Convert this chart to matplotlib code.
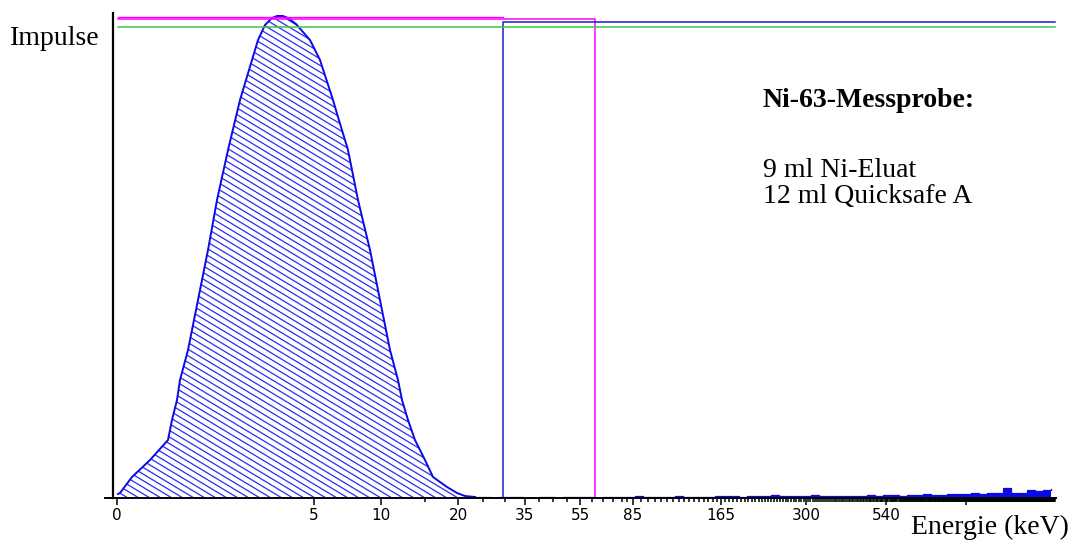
import numpy as np
import matplotlib.pyplot as plt
from matplotlib.patches import Polygon
from matplotlib.collections import LineCollection

# Ni-63 Spektrum (Kanal, Impulse) - Peak
peak_ch = [1, 3, 15, 33, 51, 55, 60, 63, 71, 81, 91, 100, 111, 123, 135, 141, 148, 155, 160,
           166, 171, 179, 193, 203, 216, 221, 231, 241, 253, 263, 273, 281, 285, 291, 298,
           308, 316, 330, 340, 348, 358]
peak_cnt = [4, 5, 21, 38, 58, 78, 98, 118, 148, 198, 248, 298, 348, 398, 438, 458, 473, 480, 482,
            482, 480, 474, 458, 438, 398, 381, 348, 298, 248, 198, 148, 118, 98, 78, 58,
            38, 21, 11, 5, 2, 1]

# Untergrund oberhalb des Peaks (Kanal 358 .. 934, Schritt 8)
tail_ch = np.arange(358, 938, 8)
tail_cnt = [1, 1, 0, 1, 1, 1, 0, 0, 1, 1, 0, 1, 1, 1, 1, 0,
            1, 1, 1, 1, 2, 1, 1, 1, 1, 2, 1, 1, 1, 1, 2,
            2, 2, 1, 2, 2, 2, 3, 2, 2, 2, 2, 3, 2, 2, 2, 2,
            2, 2, 3, 2, 3, 3, 2, 3, 3, 4, 3, 3, 4,
            4, 4, 5, 4, 5, 5, 10, 5, 5, 8, 7, 8, 9]

# Energieachse: Beschriftung und Kanalposition
tick_kev = [0, 5, 10, 20, 35, 55, 85, 165, 300, 540, 1000]
tick_labels = ['0', '5', '10', '20', '35', '55', '85', '165', '300', '540', '']
map_kev = [0, 5, 10, 15, 20, 25, 30, 35, 40, 45, 50, 55, 60, 65, 70, 75, 80, 85,
           165, 300, 540, 1000, 2000]
map_ch = [0, 197, 264, 308, 341, 366, 388, 408, 422, 436, 450, 463, 475, 486, 496, 505, 510, 516,
          604, 689, 769, 849, 939]

# Fenstergrenzen / Marker
fenster_a = 386
fenster_b = 478
end_ch = 938
pegel_magenta_1 = 481.5
pegel_magenta_2 = 478.7
pegel_blau = 475.7
pegel_gruen = 471.3

blau = '#0a0ae6'

def kev_to_ch(e):
    e = np.asarray(e, dtype=float)
    return np.interp(np.log(e + 1), np.log(np.array(map_kev) + 1.0), map_ch)

fig = plt.figure(figsize=(10.74, 5.42), dpi=100)
ax = fig.add_axes([105 / 1074, 44 / 542, 951 / 1074, 485 / 542])
ax.set_xlim(-12, 939)
ax.set_ylim(0, 485)

for s in ['top', 'right']:
    ax.spines[s].set_visible(False)
ax.spines['left'].set_position(('data', -4))
ax.spines['left'].set_linewidth(1.6)
ax.spines['bottom'].set_linewidth(1.4)
ax.set_yticks([])

# Schraffierte Peakflaeche
pts = np.column_stack([peak_ch, peak_cnt])
pts = np.vstack([[peak_ch[0], 0], pts, [peak_ch[-1], 0]])
poly = Polygon(pts, closed=True, facecolor='none', edgecolor='none')
ax.add_patch(poly)
segs = []
for c in np.arange(0, 1000, 11):
    xs = np.array([c - 900, c])
    segs.append(np.column_stack([xs, -0.6 * (xs - c)]))
lc = LineCollection(segs, colors='#2b2bf5', linewidths=0.9)
ax.add_collection(lc)
lc.set_clip_path(poly)

ax.plot(peak_ch, peak_cnt, color=blau, lw=1.4)
ax.fill_between(tail_ch, tail_cnt, step='post', color=blau, lw=0)
ax.step(tail_ch, tail_cnt, where='post', color=blau, lw=0.9)

# Markerlinien
ax.plot([peak_ch[0], fenster_a], [pegel_magenta_1, pegel_magenta_1], color='#ff00ff', lw=1.0)
ax.plot([peak_ch[0], fenster_b, fenster_b], [pegel_magenta_2, pegel_magenta_2, 0], color='#ff00ff', lw=1.1)
ax.plot([fenster_a, fenster_a, end_ch], [0, pegel_blau, pegel_blau], color='#1c1cc8', lw=1.1)
ax.plot([peak_ch[0], end_ch], [pegel_gruen, pegel_gruen], color='#3cc83c', lw=1.1)

# Achsenteilung
ax.set_xticks(kev_to_ch(tick_kev))
ax.set_xticklabels(tick_labels, fontsize=11, family='DejaVu Sans')
minor = kev_to_ch(np.arange(5, 2000, 5))
ax.set_xticks(minor[minor <= end_ch], minor=True)
ax.tick_params(axis='x', which='major', length=5, width=1.1, pad=2)
ax.tick_params(axis='x', which='minor', length=2.8, width=1.1)

serif = 'Liberation Serif'
fig.text(10 / 1074, 1 - 45 / 542, 'Impulse', fontsize=20, family=serif, va='baseline')
fig.text(911 / 1074, 1 - 534 / 542, 'Energie (keV)', fontsize=20, family=serif, va='baseline')
fig.text(763 / 1074, 1 - 107 / 542, 'Ni-63-Messprobe:', fontsize=20, family=serif,
         weight='bold', va='baseline')
fig.text(763 / 1074, 1 - 177 / 542, '9 ml Ni-Eluat', fontsize=20, family=serif, va='baseline')
fig.text(763 / 1074, 1 - 203 / 542, '12 ml Quicksafe A', fontsize=20, family=serif, va='baseline')

fig.savefig('out.png', dpi=100)
